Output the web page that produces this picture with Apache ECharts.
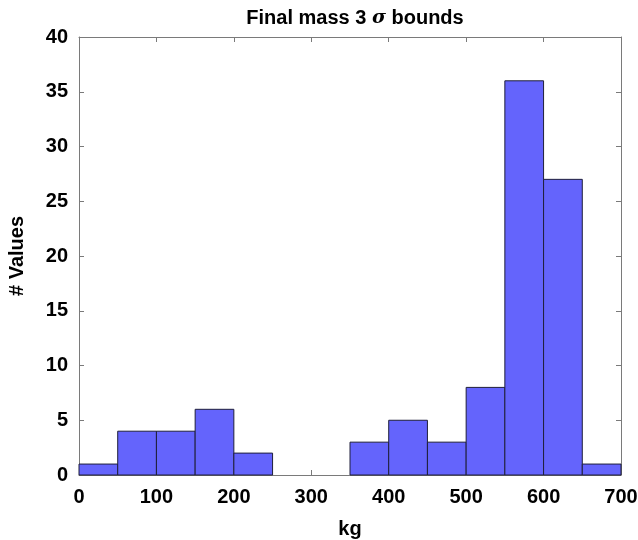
<!DOCTYPE html>
<html>
<head>
<meta charset="utf-8">
<script src="https://cdn.jsdelivr.net/npm/echarts@6/dist/echarts.min.js"></script>
<style>
  html, body { margin: 0; padding: 0; background: #fff; }
  #main { width: 638px; height: 540px; }
</style>
</head>
<body>
<div id="main"></div>
<script>
// histogram bins (kg) and counts
let binStart = [0, 50, 100, 150, 200, 250, 300, 350, 400, 450, 500, 550, 600, 650];
let binWidth = 50;
let counts = [1, 4, 4, 6, 2, 0, 0, 3, 5, 3, 8, 36, 27, 1];

let chart = echarts.init(document.getElementById('main'));

let histData = binStart.map(function (s, i) {
    return [s, s + binWidth, counts[i]];
});

let font = 'Liberation Sans, Arial, Helvetica, sans-serif';
let axisColor = '#7a7a7a';

// axis box: left/bottom carry labels, top/right only ticks
let frameAxis = function (extra) {
    return Object.assign({
        type: 'value',
        axisLine: { show: true, onZero: false, lineStyle: { color: axisColor } },
        axisTick: { show: true, inside: true, length: 5, lineStyle: { color: axisColor } },
        splitLine: { show: false }
    }, extra);
};

let option = {
    animation: false,
    title: {
        text: '{n|Final mass 3 }{s|σ}{n| bounds}',
        left: 350,
        textAlign: 'center',
        top: 3,
        textStyle: {
            rich: {
                n: { fontFamily: font, fontWeight: 'bold', fontSize: 20, color: '#000' },
                s: { fontFamily: 'DejaVu Serif, serif', fontStyle: 'italic', fontSize: 19, color: '#000' }
            }
        }
    },
    grid: { left: 79, right: 17, top: 37, bottom: 65, outerBoundsMode: 'none', containLabel: false },
    xAxis: [
        frameAxis({
            min: 0, max: 700, interval: 100,
            name: 'kg',
            nameLocation: 'middle',
            nameGap: 44,
            nameTextStyle: { fontFamily: font, fontWeight: 'bold', fontSize: 20, color: '#000' },
            axisLabel: { fontFamily: font, fontWeight: 'bold', fontSize: 20, color: '#000', margin: 12 }
        }),
        frameAxis({ position: 'top', min: 0, max: 700, interval: 100, axisLabel: { show: false } })
    ],
    yAxis: [
        frameAxis({
            min: 0, max: 40, interval: 5,
            name: '# Values',
            nameLocation: 'middle',
            nameGap: 52,
            nameTextStyle: { fontFamily: font, fontWeight: 'bold', fontSize: 20, color: '#000' },
            axisLabel: { fontFamily: font, fontWeight: 'bold', fontSize: 20, color: '#000', margin: 11 }
        }),
        frameAxis({ position: 'right', min: 0, max: 40, interval: 5, axisLabel: { show: false } })
    ],
    series: [{
        type: 'custom',
        xAxisIndex: 0,
        yAxisIndex: 0,
        data: histData,
        renderItem: function (params, api) {
            if (api.value(2) === 0) return null;
            let p0 = api.coord([api.value(0), api.value(2)]);
            let p1 = api.coord([api.value(1), 0]);
            return {
                type: 'rect',
                shape: { x: p0[0], y: p0[1], width: p1[0] - p0[0], height: p1[1] - p0[1] },
                style: { fill: '#6464fc', stroke: '#1f1f3a', lineWidth: 1 }
            };
        }
    }]
};
chart.setOption(option);
</script>
</body>
</html>
